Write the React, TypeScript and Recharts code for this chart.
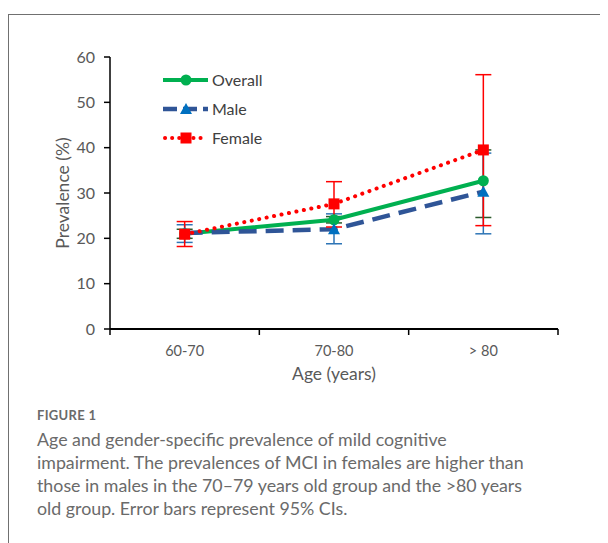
import React from 'react';
import {
  LineChart,
  Line,
  XAxis,
  YAxis,
  ErrorBar,
  Legend,
} from 'recharts';

const categories = ['60-70', '70-80', '> 80'];
const yTicks = [0, 10, 20, 30, 40, 50, 60];

const overallValues = [21.0, 24.1, 32.7];
const overallLower = [20.0, 23.4, 24.6];
const overallUpper = [22.0, 24.8, 39.5];

const maleValues = [21.2, 22.0, 30.3];
const maleLower = [19.1, 18.8, 21.0];
const maleUpper = [23.0, 25.4, 38.8];

const femaleValues = [20.9, 27.6, 39.5];
const femaleLower = [18.2, 22.5, 22.8];
const femaleUpper = [23.7, 32.5, 56.1];

const chartData = categories.map((c, i) => ({
  x: i + 0.5,
  label: c,
  overall: overallValues[i],
  overallErr: [overallValues[i] - overallLower[i], overallUpper[i] - overallValues[i]],
  male: maleValues[i],
  maleErr: [maleValues[i] - maleLower[i], maleUpper[i] - maleValues[i]],
  female: femaleValues[i],
  femaleErr: [femaleValues[i] - femaleLower[i], femaleUpper[i] - femaleValues[i]],
}));

const xTicks = [0, 0.5, 1, 1.5, 2, 2.5, 3];

const GREEN = '#00B050';
const NAVY = '#2F5597';
const BLUE = '#0070C0';
const RED = '#FF0000';

const FONT = 'Lato, "Open Sans", sans-serif';

const Circle = ({ cx, cy }: any) => <circle cx={cx} cy={cy} r={5.5} fill={GREEN} />;
const Triangle = ({ cx, cy }: any) => (
  <path d={`M${cx},${cy - 6} L${cx + 6},${cy + 5} L${cx - 6},${cy + 5} Z`} fill={BLUE} />
);
const Square = ({ cx, cy }: any) => (
  <rect x={cx - 5.5} y={cy - 5.5} width={11} height={11} fill={RED} />
);

const XTick = (props: any) => {
  const { x, y, payload } = props;
  const v = payload.value;
  if (Number.isInteger(v)) {
    return <line x1={x} x2={x} y1={y - 8} y2={y - 2} stroke="#000" strokeWidth={1.5} />;
  }
  return (
    <text x={x} y={y + 19} textAnchor="middle" fill="#595959" fontSize={14.5} fontFamily={FONT}>
      {categories[Math.floor(v)]}
    </text>
  );
};

const legendRows = [
  { name: 'Overall', color: GREEN, dash: undefined, width: 4, cap: 'butt', marker: 'circle' },
  { name: 'Male', color: NAVY, dash: '14 6', width: 4.5, cap: 'butt', marker: 'triangle' },
  { name: 'Female', color: RED, dash: '0.1 7', width: 4, cap: 'round', marker: 'square' },
];

const LegendContent = () => (
  <svg width={140} height={90}>
    {legendRows.map((r, i) => {
      const cy = 14 + i * 29;
      const cx = 23;
      return (
        <g key={r.name}>
          <line
            x1={r.cap === 'round' ? 2 : 0}
            x2={r.cap === 'round' ? 44 : 45}
            y1={cy}
            y2={cy}
            stroke={r.color}
            strokeWidth={r.width}
            strokeDasharray={r.dash}
            strokeLinecap={r.cap as any}
          />
          {r.marker === 'circle' && <Circle cx={cx} cy={cy} />}
          {r.marker === 'triangle' && <Triangle cx={cx} cy={cy} />}
          {r.marker === 'square' && <Square cx={cx} cy={cy} />}
          <text x={49} y={cy + 5.5} fill="#404040" fontSize={16} fontFamily={FONT}>
            {r.name}
          </text>
        </g>
      );
    })}
  </svg>
);

export default function App() {
  return (
    <div
      style={{
        position: 'relative',
        top: 6,
        width: 640,
        height: 560,
        border: '1px solid #707070',
        boxSizing: 'border-box',
        background: '#fff',
      }}
    >
      <LineChart
        width={600}
        height={390}
        data={chartData}
        margin={{ top: 42, right: 51, left: 0, bottom: 26 }}
        style={{ fontFamily: FONT }}
      >
        <XAxis
          dataKey="x"
          type="number"
          domain={[0, 3]}
          ticks={xTicks}
          interval={0}
          tickLine={false}
          tick={<XTick />}
          axisLine={{ stroke: '#000', strokeWidth: 2 }}
          height={50}
          label={{
            value: 'Age (years)',
            position: 'insideBottom',
            offset: -1,
            fill: '#595959',
            fontSize: 17.5,
            fontFamily: FONT,
          }}
        />
        <YAxis
          type="number"
          domain={[0, 60]}
          ticks={yTicks}
          width={101}
          tickSize={6}
          tickMargin={9}
          tick={{ fill: '#595959', fontSize: 16, fontFamily: FONT }}
          tickLine={{ stroke: '#000', strokeWidth: 1.5 }}
          axisLine={{ stroke: '#000', strokeWidth: 1.5 }}
          label={{
            value: 'Prevalence (%)',
            angle: -90,
            position: 'center',
            dx: 3,
            fill: '#595959',
            fontSize: 17.5,
            fontFamily: FONT,
          }}
        />
        <Legend
          layout="vertical"
          align="center"
          verticalAlign="middle"
          content={<LegendContent />}
          wrapperStyle={{ left: 154, top: 51, width: 140 }}
        />
        <Line
          dataKey="overall"
          name="Overall"
          stroke={GREEN}
          strokeWidth={4}
          dot={(p: any) => <Circle key={`o${p.index}`} cx={p.cx} cy={p.cy} />}
          activeDot={false}
          isAnimationActive={false}
        >
          <ErrorBar dataKey="overallErr" direction="y" width={8} stroke="#2b5a2b" strokeWidth={1.5} />
        </Line>
        <Line
          dataKey="male"
          name="Male"
          stroke={NAVY}
          strokeWidth={4.5}
          strokeDasharray="18 9"
          dot={(p: any) => <Triangle key={`m${p.index}`} cx={p.cx} cy={p.cy} />}
          activeDot={false}
          isAnimationActive={false}
        >
          <ErrorBar dataKey="maleErr" direction="y" width={8} stroke="#2E75B6" strokeWidth={1.5} />
        </Line>
        <Line
          dataKey="female"
          name="Female"
          stroke={RED}
          strokeWidth={4}
          strokeDasharray="0.1 7.5"
          strokeLinecap="round"
          dot={(p: any) => <Square key={`f${p.index}`} cx={p.cx} cy={p.cy} />}
          activeDot={false}
          isAnimationActive={false}
        >
          <ErrorBar dataKey="femaleErr" direction="y" width={8} stroke={RED} strokeWidth={1.5} />
        </Line>
      </LineChart>
      <div
        style={{
          position: 'absolute',
          left: 28,
          top: 391,
          fontFamily: FONT,
          color: '#6a6a6a',
        }}
      >
        <div style={{ fontSize: 13, fontWeight: 700, letterSpacing: 0.3, color: '#6a6a6a', lineHeight: '18px' }}>
          FIGURE 1
        </div>
        <div style={{ fontSize: 17.8, lineHeight: '23px', marginTop: 4 }}>
          Age and gender-specific prevalence of mild cognitive
          <br />
          impairment. The prevalences of MCI in females are higher than
          <br />
          those in males in the 70–79 years old group and the &gt;80 years
          <br />
          old group. Error bars represent 95% CIs.
        </div>
      </div>
    </div>
  );
}
